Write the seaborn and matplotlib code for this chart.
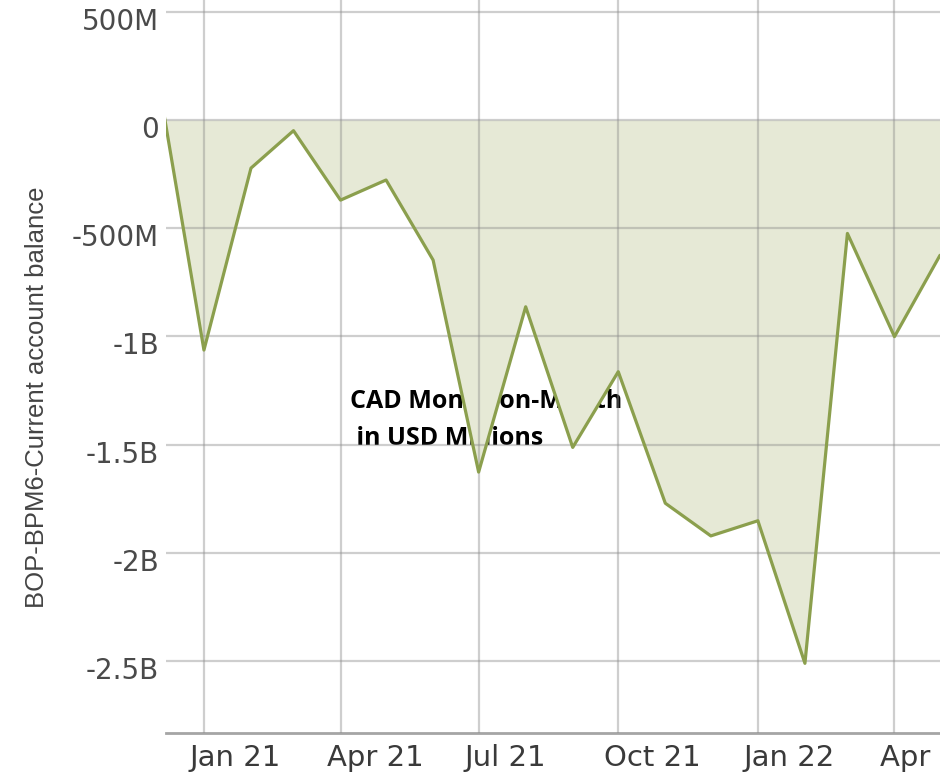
import pandas as pd
import matplotlib
matplotlib.use("Agg")
import matplotlib.pyplot as plt
import matplotlib.transforms as mtransforms
from matplotlib.patches import Rectangle
import seaborn as sns

# Monthly current account balance, USD millions
months = ["2020-12", "2021-01", "2021-02", "2021-03", "2021-04", "2021-05",
          "2021-06", "2021-07", "2021-08", "2021-09", "2021-10", "2021-11",
          "2021-12", "2022-01", "2022-02", "2022-03", "2022-04", "2022-05"]
balance = [220, -1063, -222, -49, -370, -277,
           -647, -1627, -863, -1513, -1163, -1771,
           -1922, -1852, -2511, -524, -1001, -625]

ytick_values = [500, 0, -500, -1000, -1500, -2000, -2500]
ytick_labels = ["500M", "0", "-500M", "-1B", "-1.5B", "-2B", "-2.5B"]
xtick_dates = ["2021-01-01", "2021-04-01", "2021-07-01", "2021-10-01", "2022-01-01", "2022-04-01"]
xtick_labels = ["Jan 21", "Apr 21", "Jul 21", "Oct 21", "Jan 22", "Apr 22"]

df = pd.DataFrame({"month": pd.to_datetime(months), "balance": balance})

sns.set_style("white")
line_color = "#8b9f4d"
fill_color = "#e6e9d6"
narrow = ["Liberation Sans Narrow", "Liberation Sans"]

fig = plt.figure(figsize=(9.4, 7.77), dpi=100)
ax = fig.add_axes([166 / 940, 44 / 777, 774 / 940, 733 / 777])

# Area under the line (drawn over the annotation text, like the original)
ax.fill_between(df["month"], df["balance"], 0, color=fill_color, zorder=1.5, linewidth=0)
sns.lineplot(data=df, x="month", y="balance", color=line_color, linewidth=2.3, ax=ax, zorder=3)

ax.set_xlim(pd.Timestamp("2020-12-07"), pd.Timestamp("2022-05-01"))
ax.set_ylim(-2833, 555)

ax.set_yticks(ytick_values)
ax.set_yticklabels(ytick_labels, fontsize=20, color="#4a4a4a", family="DejaVu Sans")
ax.set_xticks(pd.to_datetime(xtick_dates))
ax.set_xticklabels(xtick_labels, fontsize=21, color="#3a3a3a", family="DejaVu Sans")
ax.tick_params(axis="both", length=0)
ax.tick_params(axis="x", pad=8)
ax.tick_params(axis="y", pad=5)

# nudge tick labels like the screenshot
x_off = mtransforms.ScaledTranslation(-14 / 100, 0, fig.dpi_scale_trans)
for lab in ax.get_xticklabels():
    lab.set_ha("left")
    lab.set_transform(lab.get_transform() + x_off)
y_off = mtransforms.ScaledTranslation(0, -7 / 100, fig.dpi_scale_trans)
for lab in ax.get_yticklabels():
    lab.set_transform(lab.get_transform() + y_off)

ax.set_axisbelow(False)
ax.grid(True, color="#8c8c8c", alpha=0.42, linewidth=1.6)

for s in ["top", "right", "left"]:
    ax.spines[s].set_visible(False)
ax.spines["bottom"].set_color("#a5a5a5")
ax.spines["bottom"].set_linewidth(2)

ax.set_xlabel("")
ax.set_ylabel("BOP-BPM6-Current account balance", fontsize=18.5, color="#444444", family=narrow)
ax.yaxis.set_label_coords(-0.1667, 0.458)
ax.yaxis.label.set_va("center")

# Annotation text that sits underneath the area fill
title_font = ["Open Sans", "DejaVu Sans"]
clip = Rectangle((0, (733 - 440) / 733), 1, 1, transform=ax.transAxes)
t1 = ax.text((350 - 166) / 774, (733 - 408) / 733, "CAD Month-on-Month",
             transform=ax.transAxes, fontsize=18, fontweight="bold", family=title_font,
             color="black", ha="left", va="baseline", zorder=1)
t2 = ax.text((350 - 166) / 774, (733 - 445) / 733, " in USD Millions",
             transform=ax.transAxes, fontsize=18, fontweight="bold", family=title_font,
             color="black", ha="left", va="baseline", zorder=1)
t2.set_clip_path(clip)

fig.savefig("out.png", dpi=100)
